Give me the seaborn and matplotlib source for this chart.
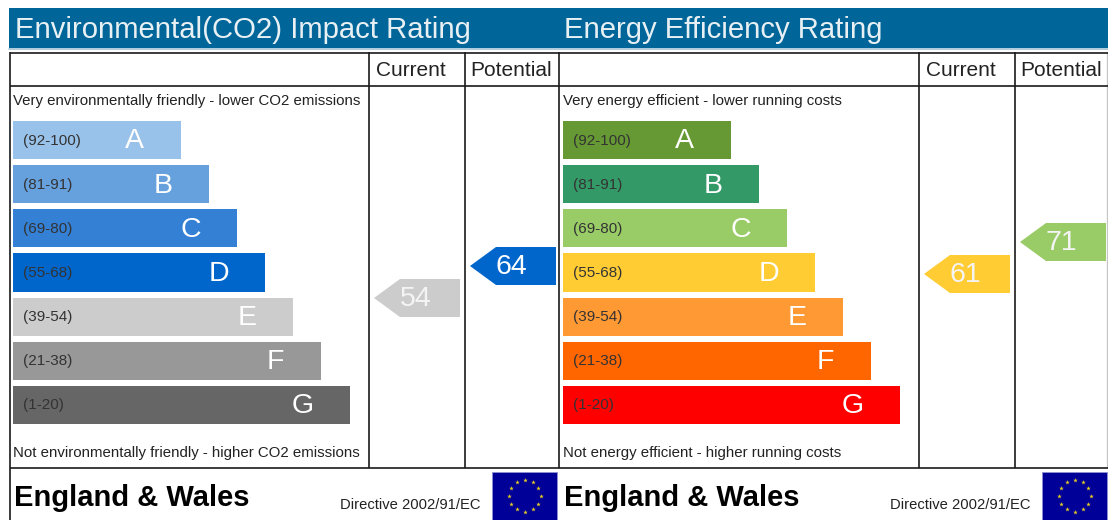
import numpy as np
import pandas as pd
import seaborn as sns
import matplotlib
matplotlib.use("Agg")
import matplotlib.pyplot as plt
from matplotlib.patches import Polygon, Rectangle

bands = ["A", "B", "C", "D", "E", "F", "G"]
ranges = ["(92-100)", "(81-91)", "(69-80)", "(55-68)", "(39-54)", "(21-38)", "(1-20)"]
bar_lengths = [6, 7, 8, 9, 10, 11, 12]
env_colors = ["#99c2ea", "#66a1de", "#3380d5", "#0066cc", "#cccccc", "#989898", "#666666"]
eff_colors = ["#669933", "#339966", "#99cc66", "#ffcc33", "#ff9933", "#ff6600", "#ff0000"]
env_current, env_potential = 54, 64
eff_current, eff_potential = 61, 71
env_current_color, env_potential_color = "#cccccc", "#0066cc"
eff_current_color, eff_potential_color = "#ffcc33", "#99cc66"
env_title = "Environmental(CO2) Impact Rating"
eff_title = "Energy Efficiency Rating"
env_top = "Very environmentally friendly - lower CO2 emissions"
env_bottom = "Not environmentally friendly - higher CO2 emissions"
eff_top = "Very energy efficient - lower running costs"
eff_bottom = "Not energy efficient - higher running costs"

W, H = 1108, 520
sns.set_theme(style="white")
plt.rcParams["font.family"] = ["Liberation Sans", "DejaVu Sans"]
fig = plt.figure(figsize=(W / 100, H / 100), dpi=100, facecolor="white")

ov = fig.add_axes([0, 0, 1, 1], zorder=1)
ov.set_xlim(0, W); ov.set_ylim(H, 0); ov.axis("off")

LINE = "#1a1a1a"
LW = 1.2
ov.add_patch(Rectangle((9, 7.5), W - 9, 40.5, fc="#006699", ec="none"))
ov.plot([9, W], [49, 49], color="#9fc4d6", lw=1.2)


def panel(dx, title, top, bottom, colors, current, potential, ccol, pcol, anchor, left, right):
    # frame
    for x in (left, 368.5 + dx, 464.5 + dx):
        ov.plot([x, x], [52, 468], color=LINE, lw=LW, solid_capstyle="butt")
    for y in (52.5, 86, 468):
        ov.plot([left, right], [y, y], color=LINE, lw=LW, solid_capstyle="butt")
    ov.text(15 + dx - (1 if dx else 0), 30, title, color="#e8f0f4", fontsize=21.1, va="center", ha="left")
    ov.text(410.5 + dx, 70.5, "Current", color="#222222", fontsize=15, va="center", ha="center")
    ov.text(511 + dx, 70.5, "Potential", color="#222222", fontsize=15, va="center", ha="center")
    ov.text(13 + dx, 100.5, top, color="#222222", fontsize=10.8, va="center", ha="left")
    ov.text(13 + dx, 453, bottom, color="#222222", fontsize=10.8, va="center", ha="left")
    ov.text(14 + dx, 498, "England & Wales", color="black", fontsize=21, fontweight="bold", va="center", ha="left")
    ov.text(481 + dx, 505, "Directive 2002/91/EC", color="#222222", fontsize=10.6, va="center", ha="right")

    # bars
    x0, x1, y0, y1 = 13 + dx, 349.5 + dx, 118, 427
    ax = fig.add_axes([x0 / W, 1 - y1 / H, (x1 - x0) / W, (y1 - y0) / H], zorder=2)
    ax.patch.set_alpha(0)
    df = pd.DataFrame({"band": bands, "length": bar_lengths})
    sns.barplot(data=df, y="band", x="length", hue="band", palette=colors, saturation=1,
                width=38 / 44.1, legend=False, ax=ax, linewidth=0)
    ax.set_xlim(0, max(bar_lengths))
    ax.set_ylim(len(bands) - 0.5, -0.5)
    ax.axis("off")
    unit = (x1 - x0) / max(bar_lengths)
    for i, (b, r, l) in enumerate(zip(bands, ranges, bar_lengths)):
        ax.text(10 / unit, i + 0.01, r, color="#333333", fontsize=11, va="center", ha="left")
        ax.text(l - 46.5 / unit, i + 0.03, b, color="white", fontsize=20.5, va="center", ha="center")

    # rating arrows
    for rating, col, xl, xr in ((current, ccol, 374 + dx, 460 + dx), (potential, pcol, 470 + dx, 556 + dx)):
        yc = anchor - 3.2 * rating
        ov.add_patch(Polygon([(xl, yc), (xl + 26, yc - 19), (xr, yc - 19), (xr, yc + 19), (xl + 26, yc + 19)],
                             fc=col, ec="none", zorder=3))
        ov.text(xl + 41.5, yc + 1.5, str(rating), color="#f4f4f4" if col != "#0066cc" else "white", fontsize=20.5,
                va="center", ha="center", zorder=4)

    # flag
    fx = 492 + dx
    ov.add_patch(Rectangle((fx, 472), 65, 47.5, fc="#000099", ec="#8f8fd0", lw=0.6))
    ang = np.deg2rad(np.arange(0, 360, 30))
    ov.scatter(fx + 32.5 + 16 * np.cos(ang), 495.5 + 16 * np.sin(ang), marker="*", s=12, color="#e8d020", linewidths=0, zorder=3)


ov.plot([10, 10], [468, 520], color=LINE, lw=LW, solid_capstyle="butt")
ov.plot([1107, 1107], [52, 468], color="#c4c4c4", lw=0.9, solid_capstyle="butt")
panel(0, env_title, env_top, env_bottom, env_colors, env_current, env_potential,
      env_current_color, env_potential_color, 470.8, 10, 559)
panel(550, eff_title, eff_top, eff_bottom, eff_colors, eff_current, eff_potential,
      eff_current_color, eff_potential_color, 469.2, 559, W)

fig.savefig("out.png", dpi=100)
